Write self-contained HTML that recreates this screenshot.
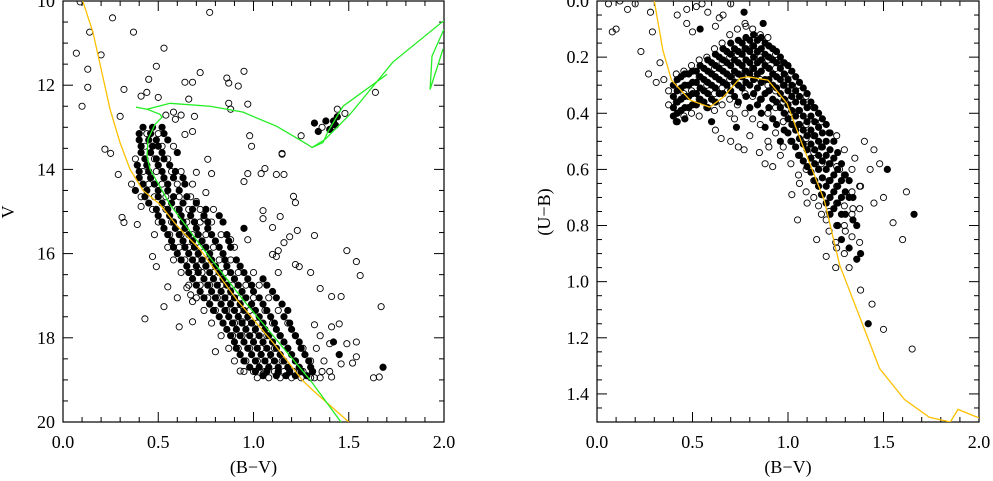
<!DOCTYPE html>
<html><head><meta charset="utf-8"><style>
html,body{margin:0;padding:0;background:#fff;}
svg{display:block;}
text{font-family:"Liberation Serif",serif;font-size:18px;fill:#000;}
</style></head><body>
<svg id="fig" width="993" height="481" viewBox="0 0 993 481" xmlns="http://www.w3.org/2000/svg">
<g id="left"></g>
<g id="right"></g>
</svg>
<script>
// ---------- LEFT PANEL DATA (B-V vs V) ----------
const leftFilledV = [13.0,13.3,13.6,13.9,14.2,14.5,14.8,15.1,15.4,15.7,16.0,16.3,16.6,16.9,17.2,17.5,17.8,18.1,18.4,18.7,18.9];
const leftFilledBV = [
[0.42,0.47,0.52],[0.40,0.45,0.55,0.49],[0.41,0.46,0.52,0.60],[0.39,0.44,0.50,0.56],
[0.40,0.46,0.53,0.58,0.63],[0.38,0.44,0.50,0.55,0.61],[0.45,0.52,0.57,0.63,0.70],
[0.50,0.56,0.62,0.67,0.74,0.82],[0.53,0.59,0.64,0.70,0.76,0.95],[0.57,0.63,0.68,0.73,0.80,0.87],
[0.60,0.66,0.71,0.77,0.84],[0.65,0.70,0.75,0.80,0.86,0.93],[0.68,0.74,0.79,0.84,0.90,0.97,1.05],
[0.72,0.78,0.83,0.88,0.94,1.00,1.10],[0.77,0.83,0.88,0.93,0.99,1.05,1.15],[0.82,0.87,0.92,0.97,1.03,1.09,1.16],
[0.86,0.91,0.96,1.01,1.06,1.12,1.20],[0.90,0.95,1.00,1.05,1.10,1.16,1.24,1.42],
[0.93,0.99,1.04,1.09,1.14,1.20,1.27,1.45],[0.98,1.03,1.08,1.13,1.18,1.24,1.30,1.68],[1.05,1.12,1.17,1.22,1.28]];
const leftFilled2V = [13.15,13.45,13.75,14.05,14.35,14.65,14.95,15.25,15.55,15.85,16.15,16.45,16.75,17.05,17.35,17.65,17.95,18.25,18.55,18.8];
const leftFilled2BV = [
[0.40,0.46,0.53],[0.41,0.47,0.50],[0.43,0.49,0.53],[0.40,0.45,0.52,0.59],[0.42,0.48,0.55,0.64],
[0.43,0.50,0.58,0.65],[0.49,0.55,0.61,0.68,0.75],[0.52,0.58,0.63,0.69,0.76,0.84],[0.55,0.61,0.66,0.71,0.78,0.86],
[0.58,0.64,0.69,0.75,0.82,0.88],[0.62,0.68,0.73,0.78,0.85,0.91],[0.66,0.71,0.77,0.82,0.88,0.95],
[0.70,0.76,0.81,0.86,0.92,0.99,1.07],[0.74,0.80,0.85,0.90,0.96,1.03,1.12],[0.79,0.85,0.90,0.95,1.01,1.07,1.18],
[0.84,0.89,0.94,0.99,1.05,1.11,1.19],[0.88,0.93,0.98,1.03,1.08,1.14,1.22],[0.91,0.97,1.02,1.07,1.12,1.18,1.25],
[0.95,1.01,1.06,1.11,1.16,1.22,1.29],[1.01,1.07,1.13,1.19,1.25,1.31]];
const clumpBV = [1.32,1.34,1.38,1.40,1.42,1.44,1.43];
const clumpV  = [12.9,13.1,12.85,13.05,12.85,12.75,12.95];
const leftOpenV = [13.15,13.45,13.75,14.05,14.35,14.65,14.95,15.25,15.55,15.85,16.15,16.45,16.75,17.05,17.35,17.65,17.95,18.25,18.55,18.8,18.95];
const leftOpenBV = [
[0.44,0.50],[0.43,0.52,0.58],[0.38,0.48,0.55],[0.42,0.49,0.57,0.62],[0.36,0.45,0.52,0.60,0.68],
[0.41,0.48,0.54,0.61,0.67],[0.47,0.54,0.60,0.66,0.72,0.79],[0.50,0.57,0.65,0.72,0.78],
[0.48,0.56,0.62,0.68,0.75,0.83],[0.55,0.61,0.66,0.72,0.79,0.90],[0.58,0.64,0.70,0.76,0.82,0.88],
[0.62,0.68,0.73,0.79,0.85,0.92,1.00],[0.66,0.72,0.77,0.83,0.89,0.96,1.03],[0.70,0.76,0.81,0.87,0.93,1.00,1.08],
[0.74,0.80,0.86,0.92,0.98,1.06,1.13],[0.78,0.84,0.90,0.96,1.02,1.10,1.18],[0.83,0.89,0.94,1.00,1.07,1.14,1.22],
[0.87,0.92,0.98,1.04,1.11,1.18,1.26,1.33],[0.90,0.96,1.02,1.08,1.15,1.22,1.30,1.37],
[0.95,1.00,1.06,1.11,1.16,1.21,1.26,1.31,1.36,1.40],[1.02,1.08,1.14,1.20,1.25,1.30,1.35]];
const fieldBV = [0.09,0.26,0.14,0.37,0.77,0.07,0.20,0.13,0.53,0.49,0.72,0.95,0.13,0.32,0.45,0.64,0.68,0.86,0.87,0.92,0.41,0.44,0.50,0.66,0.10,0.30,0.87,0.88,0.97,1.64,0.58,0.62,0.54,0.69,0.59,0.68,0.64,0.98,0.99,1.25,1.15,1.06,0.76,0.22,0.25,1.44,1.48,1.42,1.36,
0.31,0.32,0.39,0.29,0.43,0.53,0.55,0.47,0.49,0.41,0.78,0.70,0.95,0.97,1.04,1.12,1.16,1.15,1.21,1.22,1.14,1.05,1.10,1.23,1.32,1.19,1.16,1.13,1.12,1.54,1.49,1.22,1.24,1.30,1.56,1.35,1.41,1.46,1.67,1.41,1.32,0.94,0.88,0.74,0.70,0.75,1.05,0.97,1.10,1.13,0.65,0.68,0.60,0.67,0.68,0.61,
0.71,0.80,1.54,1.54,1.52,1.63,1.66,1.41,1.45,1.49,1.40,1.46,0.93,1.05,1.32,1.35];
const fieldV = [10.02,10.4,10.74,10.74,10.27,11.24,11.28,11.62,11.12,11.55,11.7,11.67,12.05,12.1,11.86,11.93,11.93,11.83,11.95,12.02,12.26,12.17,12.29,12.33,12.5,12.74,12.43,12.57,12.45,12.17,12.64,12.71,12.71,12.74,12.81,13.1,13.17,13.2,13.45,13.2,13.62,13.98,13.76,13.52,13.62,12.57,12.67,12.98,13.0,
15.14,15.26,15.31,14.12,17.55,17.26,16.79,16.07,16.31,14.88,14.1,14.07,14.29,14.1,14.1,14.12,14.12,13.64,14.64,14.79,15.12,15.17,15.38,15.45,15.57,15.6,15.74,15.93,16.07,16.19,15.93,16.26,16.31,16.45,16.52,16.83,17.02,17.02,17.26,17.74,17.69,17.62,15.67,15.17,14.76,14.55,14.98,15.67,16.02,16.45,16.81,17.14,17.05,16.98,17.62,17.74,16.38,
18.33,18.45,18.1,18.6,18.95,18.93,18.93,17.67,18.14,18.14,18.62,18.79,18.86,18.95,17.95,17.95];
// isochrones (left)
const yellowL_BV = [0.10,0.157,0.247,0.299,0.352,0.42,0.509,0.60,0.719,0.913,1.10,1.255,1.31,1.50];
const yellowL_V  = [9.95,10.74,12.57,13.36,14.0,14.5,14.83,15.35,15.9,17.1,18.1,19.0,19.24,20.0];
const greenMS_BV = [1.459,1.297,0.945,0.719,0.562,0.457,0.441,0.446,0.483,0.520,0.509,0.441,0.383];
const greenMS_V  = [20.0,19.0,17.095,15.786,14.833,14.0,13.69,13.286,12.93,12.76,12.69,12.57,12.52];
const greenSG_BV = [0.441,0.562,0.772,0.945,1.123,1.281,1.307,1.365,1.391,1.470,1.701];
const greenSG_V  = [12.57,12.43,12.5,12.64,12.98,13.40,13.48,13.36,13.10,12.5,11.74];
const greenRG_BV = [1.307,1.375,1.507,1.732,1.990,2.0];
const greenRG_V  = [13.48,13.29,12.69,11.45,10.5,10.48];
const greenLoop_BV = [2.0,1.937,1.927,1.995];
const greenLoop_V  = [10.67,11.31,12.10,11.14];

// ---------- RIGHT PANEL DATA (B-V vs U-B) ----------
const rightFilledBV = [0.40,0.44,0.48,0.52,0.56,0.60,0.64,0.68,0.72,0.76,0.80,0.84,0.88,0.92,0.96,1.00,1.04,1.08,1.12,1.16,1.20,1.24,1.28,1.32,1.36];
const rightFilledUB = [
[0.30,0.34,0.38,0.41],[0.27,0.31,0.35,0.39],[0.26,0.30,0.34,0.38],[0.25,0.29,0.33,0.37],[0.24,0.28,0.32,0.36],
[0.22,0.26,0.30,0.35],[0.20,0.24,0.28,0.33],[0.18,0.22,0.26,0.30],[0.17,0.21,0.25,0.29,0.34],[0.15,0.19,0.23,0.27,0.31],
[0.14,0.18,0.22,0.26,0.30,0.38],[0.14,0.18,0.22,0.26,0.31,0.37],[0.15,0.19,0.23,0.28,0.33,0.45],[0.17,0.21,0.26,0.30,0.35,0.42],
[0.20,0.24,0.28,0.33,0.38,0.50],[0.23,0.28,0.32,0.37,0.42,0.47],[0.27,0.32,0.36,0.41,0.46,0.52],[0.31,0.36,0.41,0.46,0.51,0.57],
[0.36,0.41,0.46,0.51,0.56,0.61],[0.40,0.45,0.50,0.55,0.60,0.66],[0.44,0.50,0.55,0.60,0.66,0.72],[0.50,0.56,0.62,0.68,0.74],
[0.58,0.64,0.70,0.76,0.85],[0.64,0.70,0.88],[0.80,0.92]];
const rightFilled2BV = [0.42,0.46,0.50,0.54,0.58,0.62,0.66,0.70,0.74,0.78,0.82,0.86,0.90,0.94,0.98,1.02,1.06,1.10,1.14,1.18,1.22,1.26,1.30,1.34];
const rightFilled2UB = [
[0.28,0.32,0.36,0.40],[0.26,0.30,0.34,0.38,0.42],[0.25,0.29,0.33,0.37],[0.23,0.27,0.31,0.35],[0.21,0.25,0.29,0.33,0.38],
[0.19,0.23,0.27,0.31,0.36],[0.17,0.21,0.25,0.29,0.33],[0.15,0.19,0.23,0.27,0.32],[0.14,0.18,0.22,0.26,0.30,0.36],
[0.13,0.17,0.21,0.25,0.29,0.34],[0.12,0.16,0.20,0.24,0.28,0.33],[0.13,0.17,0.21,0.25,0.29,0.35,0.40],
[0.16,0.20,0.24,0.28,0.32,0.38],[0.18,0.22,0.27,0.31,0.36,0.44],[0.22,0.26,0.30,0.35,0.40,0.46],
[0.25,0.30,0.34,0.39,0.44,0.50],[0.29,0.34,0.39,0.44,0.49,0.55],[0.33,0.38,0.43,0.48,0.53,0.59],
[0.38,0.43,0.48,0.53,0.58,0.64],[0.42,0.47,0.52,0.57,0.63,0.69],[0.47,0.53,0.58,0.64,0.70,0.76],
[0.54,0.60,0.66,0.72,0.80],[0.62,0.68,0.76],[0.70,0.78]];
const rightExtraFilledBV = [1.38,1.42,1.66,1.52,0.77,0.54,0.87,0.60,0.42,0.73];
const rightExtraFilledUB = [0.90,1.15,0.76,0.60,0.04,0.10,0.08,0.43,0.43,0.45];
const rightOpenBV = [0.36,0.40,0.44,0.48,0.52,0.56,0.60,0.64,0.68,0.72,0.76,0.80,0.84,0.88,0.92,0.96,1.00,1.04,1.08,1.12,1.16,1.20,1.24,1.28,1.32,1.36];
const rightOpenUB = [
[0.32,0.37],[0.26,0.36,0.43],[0.25,0.33,0.41],[0.23,0.32,0.40],[0.21,0.27,0.35,0.41],[0.20,0.30,0.38],
[0.17,0.24,0.33,0.39],[0.15,0.22,0.31,0.37],[0.12,0.20,0.28,0.35,0.40],[0.10,0.19,0.27,0.37],[0.08,0.17,0.25,0.33,0.40],
[0.10,0.16,0.24,0.34,0.42],[0.12,0.20,0.28,0.35,0.44],[0.13,0.21,0.30,0.40,0.50],[0.19,0.24,0.32,0.38,0.47],
[0.22,0.30,0.36,0.43,0.52],[0.26,0.35,0.40,0.50,0.58],[0.30,0.39,0.44,0.55,0.62],[0.34,0.44,0.49,0.60,0.68],
[0.38,0.48,0.54,0.64,0.70],[0.43,0.52,0.58,0.69,0.76],[0.47,0.58,0.64,0.75,0.82],[0.48,0.59,0.66,0.72,0.80,0.88],
[0.53,0.62,0.73,0.80,0.90],[0.60,0.68,0.76,0.84],[0.66,0.74,0.86]];
const rightFieldBV = [0.06,0.10,0.12,0.08,0.16,0.20,0.29,0.23,0.27,0.33,0.35,0.31,0.28,0.42,0.47,0.52,0.58,0.64,0.55,0.47,0.62,0.70,0.78,0.50,0.66,
0.65,0.70,0.74,0.77,0.80,0.62,0.72,0.85,0.88,0.92,0.96,0.90,
1.06,1.10,1.05,1.02,1.16,1.20,1.25,1.32,1.38,1.44,1.50,1.65,1.55,1.60,1.62,1.50,1.45,1.48,1.43,1.38,1.34,1.30,1.25,1.20,1.15,1.27,1.35,1.40,1.45];
const rightFieldUB = [0.01,0.10,0.00,0.11,0.03,0.01,0.11,0.18,0.26,0.22,0.28,0.29,0.04,0.05,0.03,0.02,0.04,0.06,0.01,0.08,0.09,0.01,0.09,0.11,0.05,
0.49,0.50,0.52,0.53,0.48,0.46,0.42,0.54,0.58,0.59,0.55,0.52,
0.65,0.72,0.78,0.69,0.73,0.78,0.86,0.95,1.03,1.08,1.17,1.24,0.79,0.85,0.68,0.70,0.72,0.58,0.60,0.66,0.74,0.82,0.95,0.91,0.85,0.60,0.56,0.50,0.53];
const yellowR_BV = [0.30,0.345,0.39,0.487,0.59,0.66,0.749,0.79,0.895,0.995,1.08,1.19,1.27,1.48,1.61,1.74,1.85,1.89,1.98,2.0];
const yellowR_UB = [0.0,0.176,0.282,0.353,0.378,0.343,0.275,0.27,0.282,0.365,0.52,0.71,0.94,1.31,1.42,1.483,1.50,1.455,1.48,1.485];

// ---------- AXES ----------
const NS='http://www.w3.org/2000/svg';
function mk(tag, attrs, parent){const e=document.createElementNS(NS,tag);for(const k in attrs)e.setAttribute(k,attrs[k]);parent.appendChild(e);return e;}
const L={x0:63,x1:444,y0:1,y1:422};
const R={x0:597,x1:979,y0:1,y1:422};
const xL=v=>L.x0+(v-0)/2*(L.x1-L.x0);
const yL=v=>L.y0+(v-10)/10*(L.y1-L.y0);
const xR=v=>R.x0+(v-0)/2*(R.x1-R.x0);
const yR=v=>R.y0+(v-0)/1.5*(R.y1-R.y0);

function frame(g,F,xf,yf,ymin,ymax,ystepMaj,ystepMin,ydec){
  const clip=mk('clipPath',{id:'c'+F.x0},g);
  mk('rect',{x:F.x0,y:F.y0,width:F.x1-F.x0,height:F.y1-F.y0},clip);
  const axes=mk('g',{},g);
  
  
  for(let i=0;i<=20;i++){const v=i*0.1,x=xf(v),len=(i%5==0)?10:5;
    mk('line',{x1:x,y1:F.y1,x2:x,y2:F.y1-len,stroke:'#000','stroke-width':1},axes);
    mk('line',{x1:x,y1:F.y0,x2:x,y2:F.y0+len,stroke:'#000','stroke-width':1},axes);}
  const n=Math.round((ymax-ymin)/ystepMin);
  for(let i=0;i<=n;i++){const v=ymin+i*ystepMin,y=yf(v);const maj=Math.abs(Math.round(v/ystepMaj)*ystepMaj-v)<1e-6;const len=maj?10:5;
    mk('line',{x1:F.x0,y1:y,x2:F.x0+len,y2:y,stroke:'#000','stroke-width':1},axes);
    mk('line',{x1:F.x1,y1:y,x2:F.x1-len,y2:y,stroke:'#000','stroke-width':1},axes);
    if(maj){const t=mk('text',{x:F.x0-8,y:y+6,'text-anchor':'end'},axes);t.textContent=v.toFixed(ydec);
      
      }}
  [0,0.5,1,1.5,2].forEach(v=>{const t=mk('text',{x:xf(v),y:448,'text-anchor':'middle'},axes);t.textContent=v.toFixed(1);
      
      });
  mk('rect',{x:F.x0,y:F.y0,width:F.x1-F.x0,height:F.y1-F.y0,fill:'none',stroke:'#000','stroke-width':1.2},axes);
  const xt=mk('text',{x:(F.x0+F.x1)/2,y:473,'text-anchor':'middle'},axes);xt.textContent='(B\u2212V)';
  
  
  return 'url(#c'+F.x0+')';
}
function line(g,xs,ys,xf,yf,color,clip,name){
  const p=mk('polyline',{points:xs.map((v,i)=>xf(v)+','+yf(ys[i])).join(' '),fill:'none',stroke:color,'stroke-width':1.3,'clip-path':clip},g);
  
  
}
function dot(g,x,y,filled,clip){
  const c=mk('circle',{cx:x,cy:y,r:filled?3.6:3.1,fill:filled?'#000':'none',stroke:'#000','stroke-width':filled?0:0.9,'clip-path':clip},g);
  
  
}

// left
const gl=document.getElementById('left');
const clipL=frame(gl,L,xL,yL,10,20,2,0.5,0);
const yt=mk('text',{x:0,y:0,'text-anchor':'middle',transform:'translate(14,212) rotate(-90)'},gl);yt.textContent='V';


fieldBV.forEach((v,i)=>dot(gl,xL(v),yL(fieldV[i]),false,clipL));
leftOpenV.forEach((V,i)=>leftOpenBV[i].forEach(b=>dot(gl,xL(b),yL(V),false,clipL)));
leftFilledV.forEach((V,i)=>leftFilledBV[i].forEach(b=>dot(gl,xL(b),yL(V),true,clipL)));
leftFilled2V.forEach((V,i)=>leftFilled2BV[i].forEach(b=>dot(gl,xL(b),yL(V),true,clipL)));
clumpBV.forEach((b,i)=>dot(gl,xL(b),yL(clumpV[i]),true,clipL));
line(gl,yellowL_BV,yellowL_V,xL,yL,'#ffc000',clipL,'yellow-isochrone');
line(gl,greenMS_BV,greenMS_V,xL,yL,'#22ee22',clipL,'green-isochrone-ms');
line(gl,greenSG_BV,greenSG_V,xL,yL,'#22ee22',clipL,'green-isochrone-subgiant');
line(gl,greenRG_BV,greenRG_V,xL,yL,'#22ee22',clipL,'green-isochrone-giant');
line(gl,greenLoop_BV,greenLoop_V,xL,yL,'#22ee22',clipL,'green-isochrone-loop');

// right
const gr=document.getElementById('right');
const clipR=frame(gr,R,xR,yR,0,1.5,0.2,0.05,1);
const yt2=mk('text',{x:0,y:0,'text-anchor':'middle',transform:'translate(550,212) rotate(-90)'},gr);yt2.textContent='(U\u2212B)';


rightFieldBV.forEach((v,i)=>dot(gr,xR(v),yR(rightFieldUB[i]),false,clipR));
rightOpenBV.forEach((b,i)=>rightOpenUB[i].forEach(u=>dot(gr,xR(b+0.015),yR(u),false,clipR)));
rightFilledBV.forEach((b,i)=>rightFilledUB[i].forEach(u=>dot(gr,xR(b),yR(u),true,clipR)));
rightFilled2BV.forEach((b,i)=>rightFilled2UB[i].forEach(u=>dot(gr,xR(b),yR(u),true,clipR)));
rightExtraFilledBV.forEach((b,i)=>dot(gr,xR(b),yR(rightExtraFilledUB[i]),true,clipR));
line(gr,yellowR_BV,yellowR_UB,xR,yR,'#ffc000',clipR,'yellow-intrinsic-line');
</script>
</body></html>
